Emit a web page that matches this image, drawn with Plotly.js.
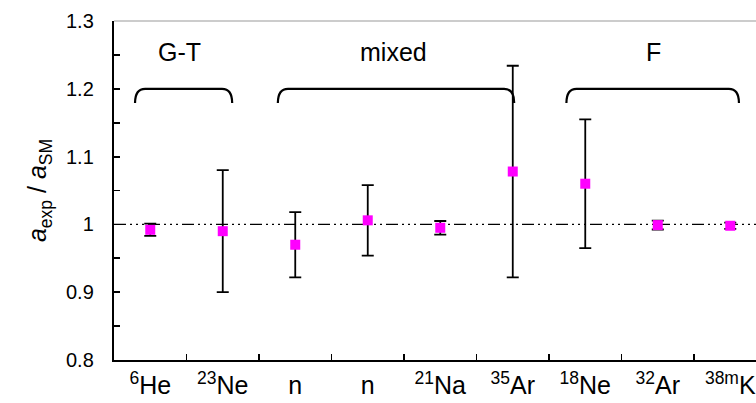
<!DOCTYPE html>
<html>
<head>
<meta charset="utf-8">
<script src="https://cdn.plot.ly/plotly-3.0.1.min.js"></script>
<style>html,body{margin:0;padding:0;background:#fff;}#chart{width:756px;height:403px;}</style>
</head>
<body>
<div id="chart"></div>
<script>
// ---- data ----
const categories = ['<sup>6</sup>He', '<sup>23</sup>Ne', 'n', 'n', '<sup>21</sup>Na', '<sup>35</sup>Ar', '<sup>18</sup>Ne', '<sup>32</sup>Ar', '<sup>38m</sup>K'];
const ratio      = [0.992, 0.990, 0.970, 1.006, 0.995, 1.078, 1.060, 0.999, 0.998];
const ratioErr   = [0.009, 0.090, 0.048, 0.052, 0.010, 0.156, 0.095, 0.0065, 0.0045];
const yTickVals  = [0.8, 0.85, 0.9, 0.95, 1.0, 1.05, 1.1, 1.15, 1.2, 1.25, 1.3];
const yTickText  = ['0.8', '', '0.9', '', '1', '', '1.1', '', '1.2', '', '1.3'];
const smValue    = 1.0;
const groupNames = ['G-T', 'mixed', 'F'];
const groupStart = [0.29, 2.26, 6.24];
const groupEnd   = [1.63, 5.52, 8.62];
const groupMid   = [0.90, 3.85, 7.44];
const bracketTop = 1.2;
const bracketLow = 1.179;
const groupLabelY = 1.254;

// ---- build ----
const xPos = categories.map((c, i) => i + 0.5);
const boundaries = categories.slice(1).map((c, i) => i + 1);

const trace = {
  type: 'scatter', mode: 'markers',
  x: xPos, y: ratio,
  error_y: {type: 'data', array: ratioErr, visible: true, color: '#000', thickness: 1.8, width: 6},
  marker: {symbol: 'square', size: 10, color: '#ff00ff'},
  hoverinfo: 'skip', showlegend: false
};

const shapes = [
  {type: 'line', xref: 'paper', yref: 'y', x0: 0, x1: 1, y0: smValue, y1: smValue,
   line: {color: '#000', width: 1.4, dash: '12px,4px,2px,4px,2px,4px,2px,4px'}, layer: 'below'},
  {type: 'line', xref: 'paper', yref: 'paper', x0: 0, x1: 1, y0: 1, y1: 1,
   line: {color: '#999', width: 1.2}}
];
const rx = 0.14, annotations = [];
groupNames.forEach((g, i) => {
  const a = groupStart[i], b = groupEnd[i];
  shapes.push({type: 'path', xref: 'x', yref: 'y',
    path: `M ${a},${bracketLow} Q ${a},${bracketTop} ${a + rx},${bracketTop} L ${b - rx},${bracketTop} Q ${b},${bracketTop} ${b},${bracketLow}`,
    line: {color: '#000', width: 2.2}});
  annotations.push({xref: 'x', yref: 'y', x: groupMid[i], y: groupLabelY, text: g, showarrow: false,
    xanchor: 'center', yanchor: 'middle', font: {size: 25, color: '#000'}});
});

const layout = {
  width: 756, height: 403,
  margin: {l: 114, r: 0, t: 21, b: 43},
  paper_bgcolor: '#fff', plot_bgcolor: '#fff',
  font: {family: 'Liberation Sans, Arial, sans-serif', color: '#000'},
  xaxis: {
    range: [0, 8.855], showgrid: false, zeroline: false,
    showline: true, linecolor: '#000', linewidth: 2.2,
    tickmode: 'array', tickvals: xPos, ticktext: categories, ticks: '',
    tickfont: {size: 25}, ticklabelstandoff: 2,
    minor: {tickmode: 'array', tickvals: boundaries, ticks: 'inside', ticklen: 6, tickcolor: '#000', tickwidth: 1.8, showgrid: false}
  },
  yaxis: {
    range: [0.8, 1.3], showgrid: false, zeroline: false,
    showline: true, linecolor: '#000', linewidth: 2.2,
    tickmode: 'array', tickvals: yTickVals, ticktext: yTickText,
    ticks: 'inside', ticklen: 6, tickcolor: '#000', tickwidth: 1.8,
    tickfont: {size: 20}, ticklabelstandoff: 14,
    title: {text: '<i>a</i><sub>exp</sub> / <i>a</i><sub>SM</sub>', font: {size: 25}, standoff: 12}
  },
  shapes: shapes,
  annotations: annotations
};

Plotly.newPlot('chart', [trace], layout, {displayModeBar: false, staticPlot: true});
</script>
</body>
</html>
